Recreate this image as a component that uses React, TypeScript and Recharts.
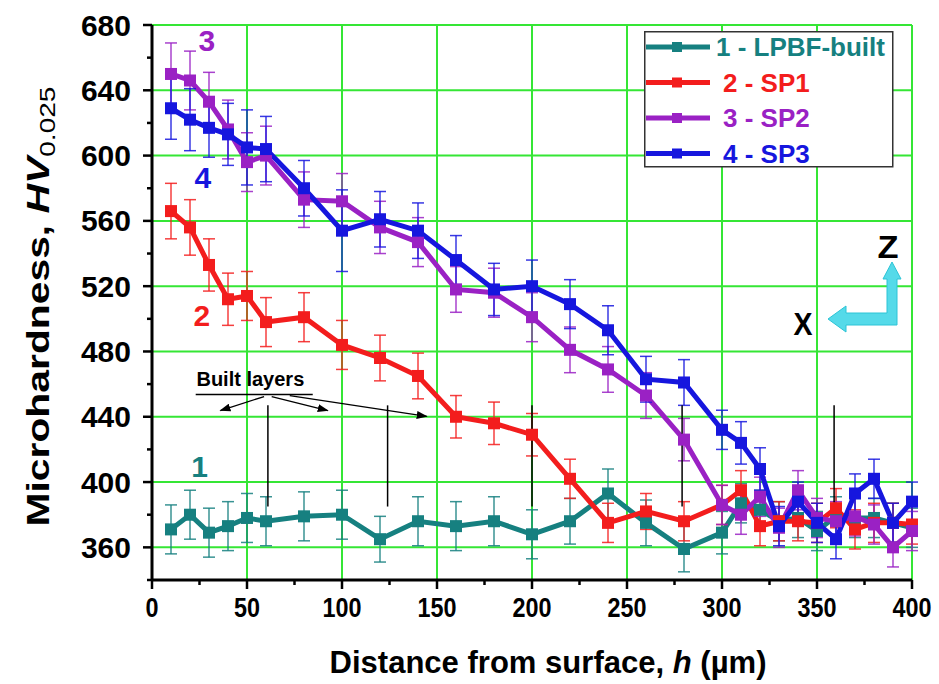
import React from 'react'
import {
  LineChart,
  Line,
  XAxis,
  YAxis,
  CartesianGrid,
  ErrorBar,
  Legend,
  ReferenceLine,
  ReferenceDot,
} from 'recharts'

// depth below the surface, µm
const depth = [10, 20, 30, 40, 50, 60, 80, 100, 120, 140, 160, 180, 200, 220, 240, 260, 280, 300, 310, 320, 330, 340, 350, 360, 370, 380, 390, 400]

const lpbf = [371, 380, 369, 373, 378, 376, 379, 380, 365, 376, 373, 376, 368, 376, 393, 375, 359, 369, 387, 383, 376, 378, 370, 379, 378, 378, 375, 372]
const lpbfErr = [15, 15, 15, 15, 15, 15, 15, 15, 14, 15, 15, 15, 15, 14, 15, 14, 14, 13, 12, 12, 12, 12, 12, 12, 12, 12, 12, 12]

const sp1 = [566, 556, 533, 512, 514, 498, 501, 484, 476, 465, 440, 436, 429, 402, 375, 382, 376, 386, 395, 373, 376, 376, 375, 384, 371, 375, 375, 374]
const sp1Err = [17, 17, 16, 16, 15, 15, 15, 15, 14, 14, 13, 13, 13, 12, 12, 11, 12, 12, 12, 12, 12, 12, 12, 12, 12, 12, 12, 12]

const sp2 = [650, 646, 633, 616, 596, 600, 573, 572, 556, 547, 518, 516, 501, 481, 469, 453, 426, 386, 380, 391, 372, 395, 378, 376, 379, 374, 360, 370]
const sp2Err = [19, 18, 18, 18, 18, 18, 17, 17, 16, 15, 14, 15, 15, 14, 14, 14, 13, 12, 12, 12, 12, 12, 12, 12, 12, 12, 12, 12]

const sp3 = [629, 622, 617, 613, 605, 604, 580, 554, 561, 554, 536, 518, 520, 509, 493, 463, 461, 432, 424, 408, 373, 388, 375, 365, 393, 402, 375, 388]
const sp3Err = [19, 19, 18, 19, 23, 20, 17, 25, 17, 17, 15, 16, 16, 15, 15, 14, 14, 12, 13, 13, 12, 12, 12, 12, 12, 12, 12, 12]

const xTicks = [0, 25, 50, 75, 100, 125, 150, 175, 200, 225, 250, 275, 300, 325, 350, 375, 400]
const yTicks = [340, 360, 380, 400, 420, 440, 460, 480, 500, 520, 540, 560, 580, 600, 620, 640, 660, 680]
const xGrid = [50, 100, 150, 200, 250, 300, 350, 400]
const yGrid = [360, 400, 440, 480, 520, 560, 600, 640, 680]

// thin black marks for the built layers
const layerMarks = [61, 124, 200, 279, 359]

const TEAL = '#168080'
const RED = '#f31d1d'
const PURPLE = '#9a21c4'
const BLUE = '#1616de'
const GRID = '#35e635'
const FONT = '"Liberation Sans", Arial, sans-serif'

const data = depth.map((h, i) => ({
  h,
  lpbf: lpbf[i],
  lpbfErr: lpbfErr[i],
  sp1: sp1[i],
  sp1Err: sp1Err[i],
  sp2: sp2[i],
  sp2Err: sp2Err[i],
  sp3: sp3[i],
  sp3Err: sp3Err[i],
}))

const series = [
  { key: 'lpbf', name: '1 - LPBF-built', color: TEAL },
  { key: 'sp1', name: '2 - SP1', color: RED },
  { key: 'sp2', name: '3 - SP2', color: PURPLE },
  { key: 'sp3', name: '4 - SP3', color: BLUE },
]

const squareDot = (color: string) => (props: any) => {
  const { cx, cy, index } = props
  if (cx == null || cy == null) return <g key={index} />
  return <rect key={index} x={cx - 6} y={cy - 6} width={12} height={12} fill={color} />
}

const XTick = (props: any) => {
  const { x, y, payload } = props
  const v = payload.value
  const major = v % 50 === 0
  return (
    <g>
      <line x1={x} x2={x} y1={y} y2={y + (major ? 9 : 5)} stroke="#000" strokeWidth={2.5} />
      {major && (
        <text
          x={x}
          y={y + 37}
          textAnchor="middle"
          fontSize={28}
          fontWeight="bold"
          fontFamily={FONT}
          fill="#000"
          textLength={String(v).length * 13}
          lengthAdjust="spacingAndGlyphs"
        >
          {v}
        </text>
      )}
    </g>
  )
}

const YTick = (props: any) => {
  const { x, y, payload } = props
  const v = payload.value
  const major = v >= 360 && (v - 360) % 40 === 0
  return (
    <g>
      <line x1={x} x2={x - (major ? 9 : 5)} y1={y} y2={y} stroke="#000" strokeWidth={2.5} />
      {major && (
        <text x={x - 21} y={y} textAnchor="end" dominantBaseline="central" fontSize={30} fontWeight="bold" fontFamily={FONT} fill="#000">
          {v}
        </text>
      )}
    </g>
  )
}

const LegendBox = (props: any) => {
  const items = props.payload || []
  return (
    <svg width={250} height={137} style={{ display: 'block' }}>
      <rect x={0.75} y={0.75} width={248} height={135} fill="#fff" stroke="#333" strokeWidth={1.5} />
      {items.map((it: any, i: number) => {
        const cy = 16 + i * 35.5
        return (
          <g key={it.value}>
            <line x1={2} x2={66} y1={cy} y2={cy} stroke={it.color} strokeWidth={5} />
            <rect x={28} y={cy - 5} width={10} height={10} fill={it.color} />
            <text x={i === 0 ? 72 : 79} y={cy} dominantBaseline="central" fontSize={26} fontWeight="bold" fontFamily={FONT} fill={it.color}>
              {it.value}
            </text>
          </g>
        )
      })}
    </svg>
  )
}

const textAt = (label: string, color: string, size: number, anchor = 'middle') => (p: any) => (
  <text x={p.cx} y={p.cy} textAnchor={anchor} dominantBaseline="central" fontSize={size} fontWeight="bold" fontFamily={FONT} fill={color}>
    {label}
  </text>
)

const arrowLine = (p: any) => (
  <line x1={p.x1} y1={p.y1} x2={p.x2} y2={p.y2} stroke="#000" strokeWidth={1.3} markerEnd="url(#blArrow)" />
)

export default function App() {
  return (
    <div style={{ position: 'absolute', left: 0, top: 0, width: 939, height: 684, background: '#fff' }}>
      <svg width={0} height={0} style={{ position: 'absolute' }}>
        <defs>
          <marker id="blArrow" markerUnits="userSpaceOnUse" markerWidth={11} markerHeight={8} refX={10} refY={4} orient="auto">
            <path d="M0,0 L11,4 L0,8 z" fill="#000" />
          </marker>
        </defs>
      </svg>
      <LineChart width={939} height={684} data={data} margin={{ top: 25, right: 27, bottom: 44, left: 52 }}>
        <CartesianGrid stroke={GRID} strokeWidth={2} horizontalValues={yGrid} verticalValues={xGrid} />
        <XAxis
          type="number"
          dataKey="h"
          domain={[0, 400]}
          ticks={xTicks}
          interval={0}
          tickSize={0}
          tickMargin={0}
          tickLine={false}
          axisLine={{ stroke: '#000', strokeWidth: 3 }}
          tick={<XTick />}
          height={60}
          label={{
            content: (p: any) => {
              const vb = p.viewBox
              return (
                <text
                  x={vb.x + vb.width / 2 + 16}
                  y={vb.y + 93}
                  textAnchor="middle"
                  fontSize={31}
                  fontWeight="bold"
                  fontFamily={FONT}
                  fill="#000"
                  textLength={437}
                  lengthAdjust="spacingAndGlyphs"
                >
                  Distance from surface, <tspan fontStyle="italic">h</tspan> (µm)
                </text>
              )
            },
          }}
        />
        <YAxis
          type="number"
          domain={[340, 680]}
          ticks={yTicks}
          interval={0}
          tickSize={0}
          tickMargin={0}
          tickLine={false}
          axisLine={{ stroke: '#000', strokeWidth: 3 }}
          tick={<YTick />}
          width={100}
          label={{
            content: (p: any) => {
              const vb = p.viewBox
              const cx = vb.x - 3
              const cy = vb.y + vb.height / 2 + 4
              return (
                <text
                  x={cx}
                  y={cy}
                  transform={`rotate(-90 ${cx} ${cy})`}
                  textAnchor="middle"
                  fontSize={32}
                  fontWeight="bold"
                  fontFamily={FONT}
                  fill="#000"
                  textLength={440}
                  lengthAdjust="spacingAndGlyphs"
                >
                  Microhardness,{' '}
                  <tspan fontStyle="italic">HV</tspan>
                  <tspan fontSize={22} fontWeight="normal" dy={6}>
                    0.025
                  </tspan>
                </text>
              )
            },
          }}
        />

        {series.map((s) => (
          <Line
            key={s.key}
            type="linear"
            dataKey={s.key}
            name={s.name}
            stroke={s.color}
            strokeWidth={5}
            dot={squareDot(s.color)}
            activeDot={false}
            isAnimationActive={false}
          >
            <ErrorBar dataKey={`${s.key}Err`} direction="y" width={6} stroke={s.color} strokeWidth={1.5} strokeOpacity={0.85} isAnimationActive={false} />
          </Line>
        ))}

        {layerMarks.map((x) => (
          <ReferenceLine key={x} segment={[{ x, y: 385 }, { x, y: 447 }]} stroke="#000" strokeWidth={1.5} />
        ))}
        <ReferenceLine segment={[{ x: 23, y: 453.6 }, { x: 84.6, y: 453.6 }]} stroke="#000" strokeWidth={1.5} />
        <ReferenceLine segment={[{ x: 59, y: 452.4 }, { x: 36, y: 443.8 }]} shape={arrowLine} />
        <ReferenceLine segment={[{ x: 63, y: 452.4 }, { x: 92.5, y: 443.8 }]} shape={arrowLine} />
        <ReferenceLine segment={[{ x: 72.5, y: 453 }, { x: 144.6, y: 440.2 }]} shape={arrowLine} />

        <ReferenceDot x={23.4} y={463} r={1} shape={textAt('Built layers', '#000', 20, 'start')} />
        <ReferenceDot x={28.9} y={670.8} r={1} shape={textAt('3', PURPLE, 30)} />
        <ReferenceDot x={26.8} y={586.4} r={1} shape={textAt('4', BLUE, 30)} />
        <ReferenceDot x={26.2} y={502} r={1} shape={textAt('2', RED, 30)} />
        <ReferenceDot x={25.1} y={409.6} r={1} shape={textAt('1', TEAL, 30)} />

        <Legend
          layout="vertical"
          align="center"
          verticalAlign="middle"
          content={<LegendBox />}
          wrapperStyle={{ position: 'absolute', left: 644, top: 31, width: 250, height: 137 }}
        />
      </LineChart>

      {/* Z / X orientation arrow */}
      <svg width={939} height={684} style={{ position: 'absolute', left: 0, top: 0, pointerEvents: 'none' }}>
        <polygon
          points="892,262 901,279 897,279 897,325 846,325 846,332 828,319 846,306 846,313 887,313 887,279 883,279"
          fill="#55dae9"
          stroke="#2cc4d6"
          strokeWidth={1}
        />
        <text x={888} y={258} textAnchor="middle" fontSize={32} fontWeight="bold" fontFamily={FONT} textLength={21} lengthAdjust="spacingAndGlyphs">
          Z
        </text>
        <text x={803} y={335} textAnchor="middle" fontSize={32} fontWeight="bold" fontFamily={FONT} textLength={19} lengthAdjust="spacingAndGlyphs">
          X
        </text>
      </svg>
    </div>
  )
}
